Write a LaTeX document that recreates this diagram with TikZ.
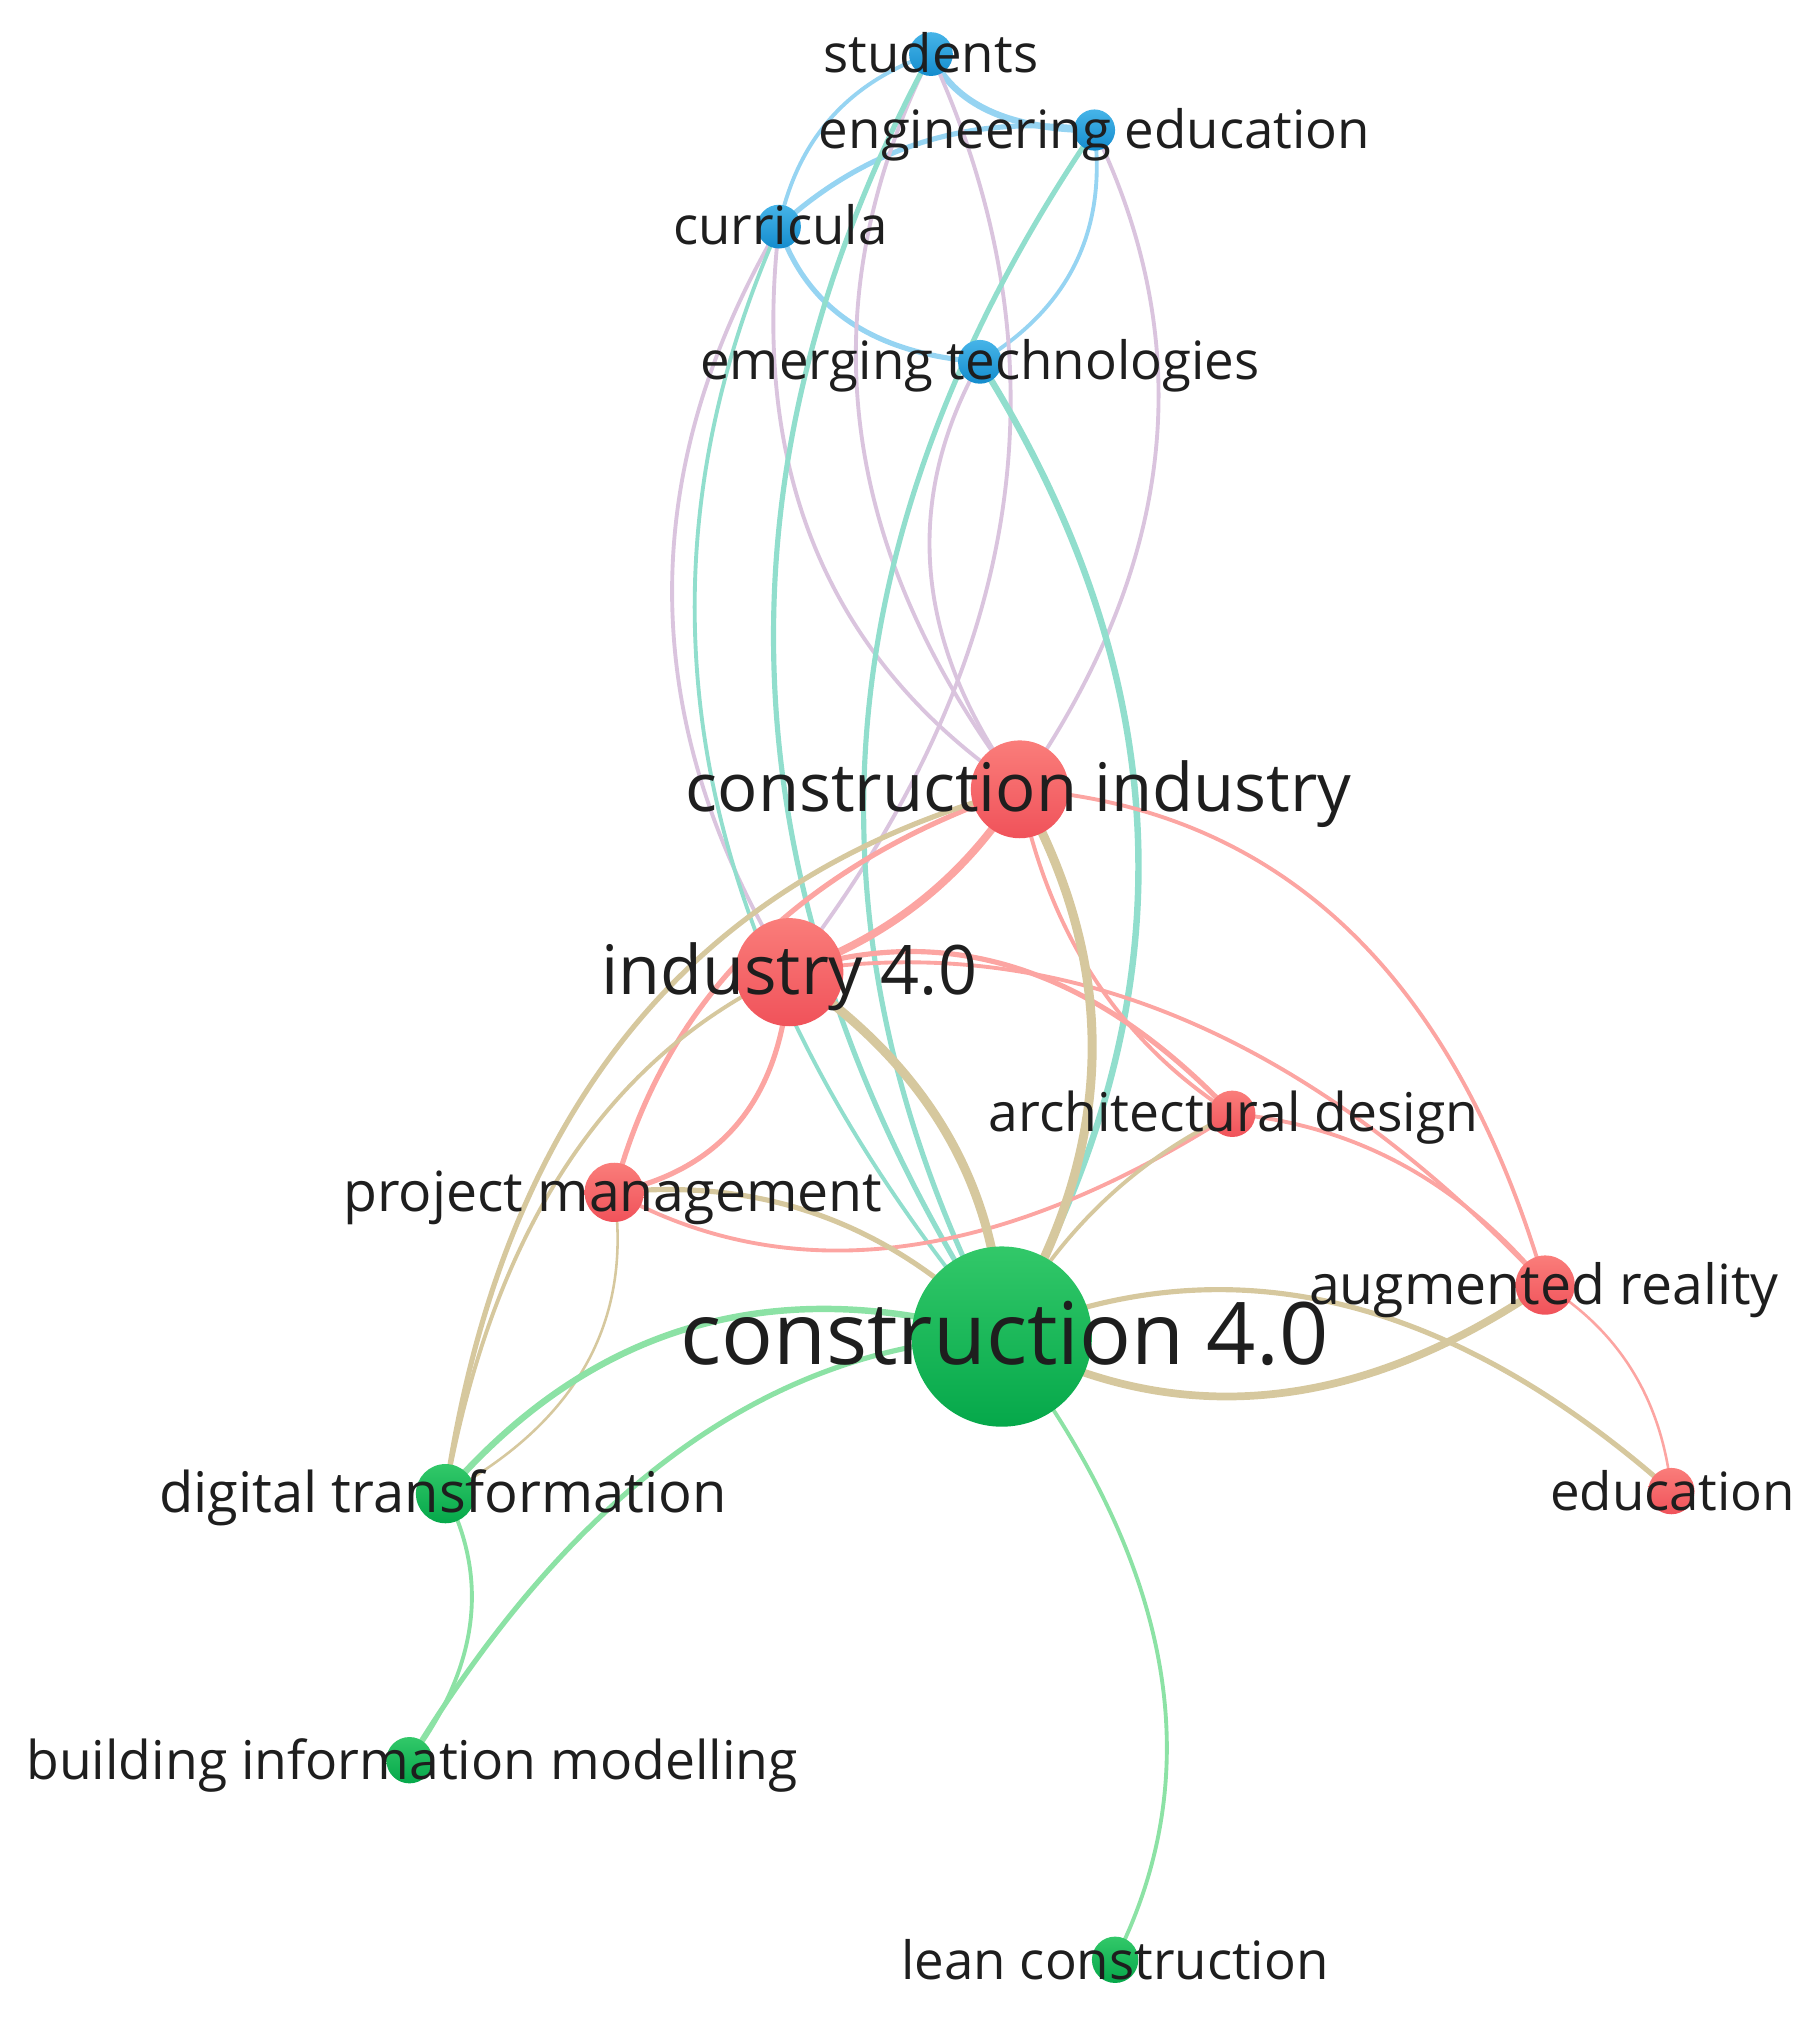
\documentclass[tikz,border=0pt]{standalone}
\usepackage{fontspec}
\setmainfont{Open Sans}
\usetikzlibrary{calc,backgrounds}
\definecolor{nR}{RGB}{240,82,90}
\definecolor{nRt}{RGB}{250,125,122}
\definecolor{nB}{RGB}{20,140,205}
\definecolor{nBt}{RGB}{70,180,232}
\definecolor{nG}{RGB}{5,168,74}
\definecolor{nGt}{RGB}{50,200,105}
\definecolor{eR}{RGB}{252,165,162}
\definecolor{eB}{RGB}{150,212,242}
\definecolor{eG}{RGB}{140,226,165}
\definecolor{eBR}{RGB}{218,196,222}
\definecolor{eBG}{RGB}{145,222,205}
\definecolor{eRG}{RGB}{214,200,158}
\definecolor{txt}{RGB}{30,30,30}
\newcommand\lnk[5]{\draw[#1,line width=#5pt] (#2.center) .. controls ($1.33333*(#4)-0.33333*(#3.center)$) and ($1.33333*(#4)-0.33333*(#2.center)$) .. (#3.center);}
\newcommand\fsz[1]{\fontsize{#1pt}{#1pt}\selectfont}
\tikzset{
  kw/.style={circle, inner sep=0pt, minimum size=#1pt, draw=none},
  red/.style={top color=nRt, bottom color=nR},
  blue/.style={top color=nBt, bottom color=nB},
  green/.style={top color=nGt, bottom color=nG},
  lbl/.style={anchor=base, inner sep=0pt, text=txt},
  every path/.style={line cap=round}
}
\begin{document}
\begin{tikzpicture}[x=1pt,y=-1pt]
\useasboundingbox (0,0) rectangle (1408,1568);
% nodes
\node[kw=34, blue] (S) at (723,42) {};
\node[kw=32, blue] (EE) at (850,101) {};
\node[kw=34, blue] (C) at (605,176) {};
\node[kw=34, blue] (ET) at (761,281) {};
\node[kw=76, red] (CI) at (792,613) {};
\node[kw=84, red] (I4) at (613,755) {};
\node[kw=36, red] (AD) at (957,865) {};
\node[kw=46, red] (PM) at (477,926) {};
\node[kw=46, red] (AR) at (1200,998) {};
\node[kw=36, red] (ED) at (1298,1158) {};
\node[kw=140, green] (C4) at (778,1038) {};
\node[kw=46, green] (DT) at (346,1160) {};
\node[kw=36, green] (BIM) at (318,1367) {};
\node[kw=36, green] (LC) at (866,1522) {};
% edges
\begin{pgfonlayer}{background}
% blue-blue
\lnk{eB}{S}{EE}{768,86}{5}
\lnk{eB}{S}{C}{645,92}{3}
\lnk{eB}{C}{EE}{718,110}{4}
\lnk{eB}{C}{ET}{660,250}{4}
\lnk{eB}{EE}{ET}{835,205}{3}
% blue-red
\lnk{eBR}{C}{I4}{522,466}{3}
\lnk{eBR}{C}{CI}{635,430}{3}
\lnk{eBR}{S}{CI}{668,330}{3}
\lnk{eBR}{S}{I4}{778,400}{3}
\lnk{eBR}{ET}{CI}{723,446}{3}
\lnk{eBR}{EE}{CI}{897,356}{3}
% blue-green
\lnk{eBG}{C}{C4}{553,606}{3}
\lnk{eBG}{S}{C4}{602,540}{4}
\lnk{eBG}{EE}{C4}{673,569}{4}
\lnk{eBG}{ET}{C4}{884,659}{5}
% red-red
\lnk{eR}{CI}{I4}{715,700}{6}
\lnk{eR}{CI}{PM}{585,735}{4}
\lnk{eR}{CI}{AD}{850,760}{3}
\lnk{eR}{CI}{AR}{1045,720}{3}
\lnk{eR}{I4}{AD}{790,752}{4}
\lnk{eR}{I4}{AR}{915,790}{3}
\lnk{eR}{I4}{PM}{575,870}{4}
\lnk{eR}{PM}{AD}{700,968}{3}
\lnk{eR}{AD}{AR}{1090,905}{3}
\lnk{eR}{AR}{ED}{1268,1065}{2}
% red-green
\lnk{eRG}{CI}{C4}{848,825}{7}
\lnk{eRG}{I4}{C4}{735,880}{7}
\lnk{eRG}{PM}{C4}{640,945}{4}
\lnk{eRG}{AD}{C4}{855,935}{3}
\lnk{eRG}{AR}{C4}{985,1083}{6}
\lnk{eRG}{ED}{C4}{1037,1012}{4}
\lnk{eRG}{I4}{DT}{440,905}{3}
\lnk{eRG}{CI}{DT}{490,800}{4}
\lnk{eRG}{PM}{DT}{455,1060}{2}
% green-green
\lnk{eG}{DT}{C4}{540,1030}{5}
\lnk{eG}{BIM}{C4}{530,1125}{4}
\lnk{eG}{DT}{BIM}{365,1262}{3}
\lnk{eG}{C4}{LC}{900,1290}{3}
\end{pgfonlayer}
% labels
\node[lbl, font=\fsz{41}] (Sl) at (723,56) {students};
\node[lbl, font=\fsz{41}] (EEl) at (850,115) {engineering education};
\node[lbl, font=\fsz{41}] (Cl) at (606,190) {curricula};
\node[lbl, font=\fsz{41}] (ETl) at (761,295) {emerging technologies};
\node[lbl, font=\fsz{52}] (CIl) at (791,630) {construction industry};
\node[lbl, font=\fsz{53}] (I4l) at (613,772) {industry 4.0};
\node[lbl, font=\fsz{41.5}] (ADl) at (958,879) {architectural design};
\node[lbl, font=\fsz{43}] (PMl) at (476,941) {project management};
\node[lbl, font=\fsz{43}] (ARl) at (1199,1013) {augmented reality};
\node[lbl, font=\fsz{41}] (EDl) at (1299,1173) {education};
\node[lbl, font=\fsz{67}] (C4l) at (780,1060) {construction 4.0};
\node[lbl, font=\fsz{43.5}] (DTl) at (344,1175) {digital transformation};
\node[lbl, font=\fsz{41.5}] (BIMl) at (320,1382) {building information modelling};
\node[lbl, font=\fsz{41}] (LCl) at (866,1537) {lean construction};
\end{tikzpicture}
\end{document}
